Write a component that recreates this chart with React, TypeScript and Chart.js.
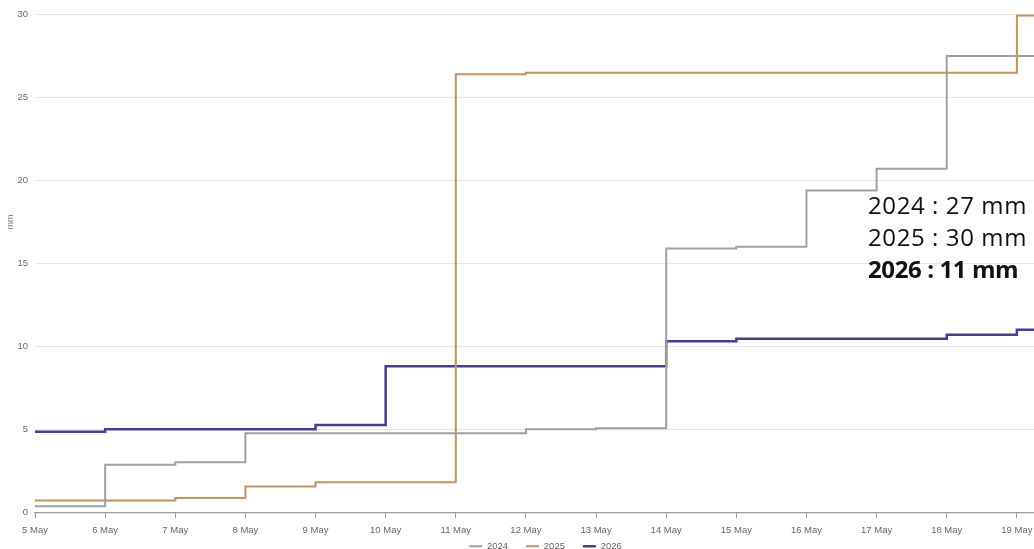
import React, { useEffect, useRef } from 'react';
import { Chart, registerables } from 'chart.js';

Chart.register(...registerables);

// x positions: day of May
const days = [5, 6, 7, 8, 9, 10, 11, 12, 13, 14, 15, 16, 17, 18, 19, 20];
const tickLabels = [
  '5 May', '6 May', '7 May', '8 May', '9 May', '10 May', '11 May', '12 May',
  '13 May', '14 May', '15 May', '16 May', '17 May', '18 May', '19 May',
];

// cumulative rainfall (mm)
const rain2024 = [0.35, 2.85, 3.0, 4.75, 4.75, 4.75, 4.75, 5.0, 5.05, 15.9, 16.0, 19.4, 20.7, 27.5, 27.5, 27.5];
const rain2025 = [0.7, 0.7, 0.85, 1.55, 1.8, 1.8, 26.4, 26.5, 26.5, 26.5, 26.5, 26.5, 26.5, 26.5, 29.95, 29.95];
const rain2026 = [4.85, 5.0, 5.0, 5.0, 5.25, 8.8, 8.8, 8.8, 8.8, 10.3, 10.45, 10.45, 10.45, 10.7, 11.0, 11.0];

const seriesNames = ['2024', '2025', '2026'];
const seriesColors = ['#a0a0a0', '#c39463', '#4f3a8f'];
const seriesWidths = [2, 2, 2.5];

const yTitle = 'mm';
const annotationLines = ['2024 : 27 mm', '2025 : 30 mm', '2026 : 11 mm'];

const legendShift = {
  id: 'legendShift',
  afterLayout(chart: any) {
    const l = chart.legend;
    if (l) {
      l.top -= 20;
      l.bottom -= 20;
    }
  },
};

export default function App() {
  const canvasRef = useRef<HTMLCanvasElement | null>(null);

  useEffect(() => {
    if (!canvasRef.current) return;
    const series = [rain2024, rain2025, rain2026];
    const chart = new Chart(canvasRef.current, {
      type: 'line',
      data: {
        datasets: series.map((vals, i) => ({
          label: seriesNames[i],
          data: vals.map((v, j) => ({ x: days[j], y: v })),
          borderColor: seriesColors[i],
          backgroundColor: seriesColors[i],
          borderWidth: seriesWidths[i],
          stepped: 'before' as const,
          pointRadius: 0,
          pointHoverRadius: 0,
          fill: false,
        })),
      },
      options: {
        responsive: false,
        maintainAspectRatio: false,
        animation: false,
        layout: { padding: { top: 10, right: 3, left: 0, bottom: 0 } },
        plugins: {
          tooltip: { enabled: false },
          legend: {
            position: 'bottom',
            labels: {
              usePointStyle: true,
              pointStyle: 'line',
              pointStyleWidth: 13,
              padding: 18,
              color: '#666',
              font: { family: 'Liberation Sans, Arial, sans-serif', size: 9.5 },
            },
          },
        },
        scales: {
          x: {
            type: 'linear',
            min: 5,
            max: 20,
            ticks: {
              stepSize: 1,
              autoSkip: false,
              maxRotation: 0,
              padding: 7,
              color: '#666',
              font: { family: 'Liberation Sans, Arial, sans-serif', size: 9.5 },
              callback: (v: any) => {
                const idx = days.indexOf(Number(v));
                return idx >= 0 && idx < tickLabels.length ? tickLabels[idx] : '';
              },
            },
            grid: {
              drawOnChartArea: false,
              drawTicks: true,
              tickLength: 6,
              color: '#9a9a9a',
            },
            border: { display: true, color: '#9a9a9a', width: 1.2 },
          },
          y: {
            min: 0,
            max: 35,
            ticks: {
              stepSize: 5,
              padding: 7,
              color: '#666',
              font: { family: 'Liberation Sans, Arial, sans-serif', size: 9.5 },
            },
            grid: { color: '#e6e6e6', lineWidth: 1, drawTicks: false },
            border: { display: false },
            title: {
              display: true,
              text: yTitle,
              color: '#888',
              font: { family: 'Liberation Sans, Arial, sans-serif', size: 9 },
              padding: { top: 5, bottom: 4 },
            },
            afterFit: (s: any) => {
              s.width = 35;
            },
          },
        },
      },
      plugins: [legendShift],
    });
    return () => chart.destroy();
  }, []);

  return (
    <div
      style={{
        position: 'absolute',
        left: 0,
        top: 0,
        width: 1034,
        height: 549,
        overflow: 'hidden',
        background: '#fff',
      }}
    >
      <canvas
        ref={canvasRef}
        width={1094}
        height={662}
        style={{ position: 'absolute', left: 0, top: -81, width: 1094, height: 662 }}
      />
      <div
        style={{
          position: 'absolute',
          left: 868,
          top: 189,
          fontFamily: '"Open Sans", sans-serif',
          fontSize: 24,
          lineHeight: '32px',
          color: '#111',
          whiteSpace: 'nowrap',
        }}
      >
        {annotationLines.map((t, i) => {
          const bold = i === annotationLines.length - 1;
          return (
            <div key={i} style={{ fontWeight: bold ? 700 : 400, letterSpacing: bold ? '-0.4px' : '0.6px' }}>
              {t}
            </div>
          );
        })}
      </div>
    </div>
  );
}
